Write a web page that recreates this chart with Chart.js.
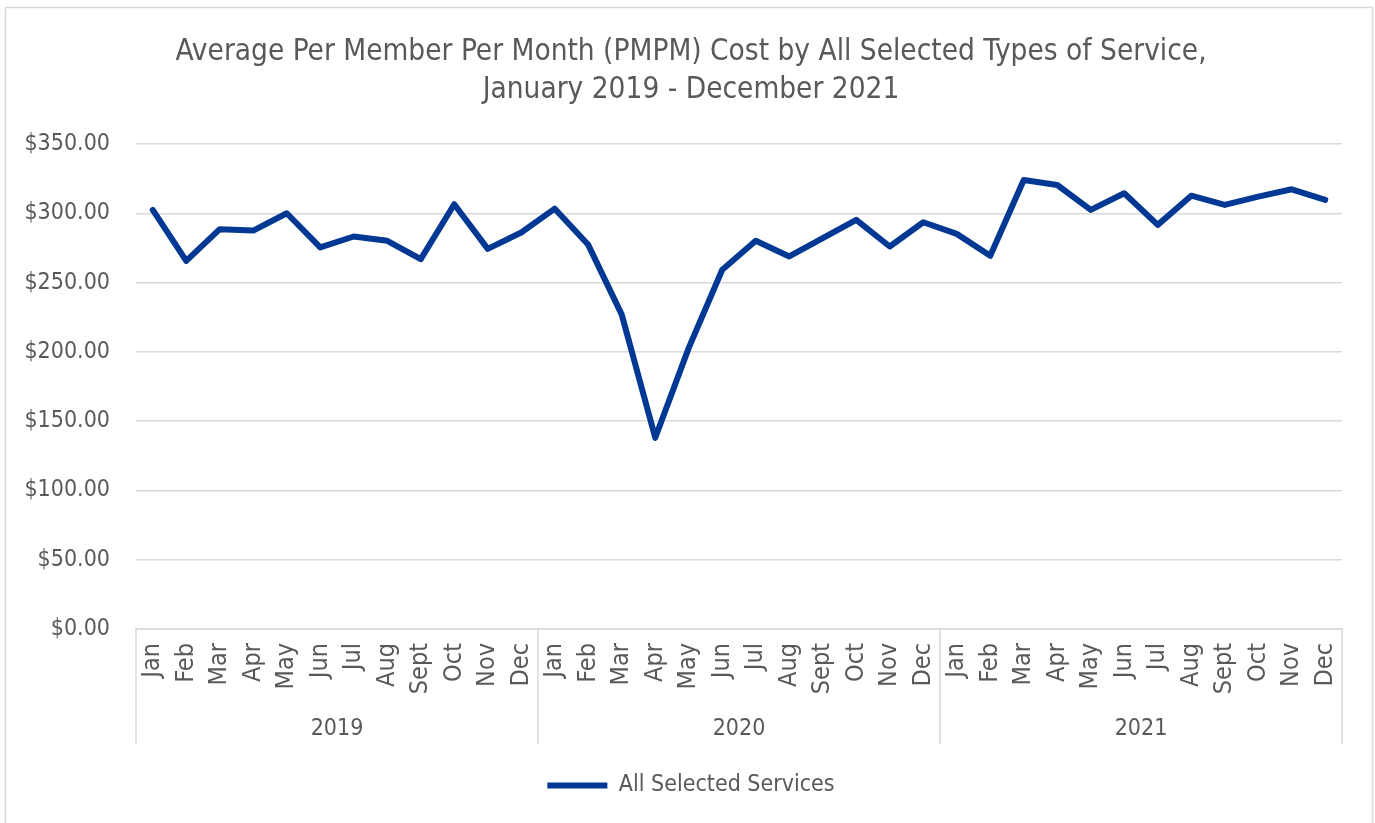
<!DOCTYPE html>
<html lang="en">
<head>
    <meta charset="UTF-8">
    <title>PMPM Cost</title>
    <script src="https://cdn.jsdelivr.net/npm/chart.js"></script>
    <style>
        body { margin: 0; background: #ffffff; }
        #wrap { width: 1375px; height: 823px; }
    </style>
</head>
<body>
<div id="wrap"><canvas id="myChart" width="1375" height="823"></canvas></div>

<script>
    // data
    const meses = ['Jan', 'Feb', 'Mar', 'Apr', 'May', 'Jun', 'Jul', 'Aug', 'Sept', 'Oct', 'Nov', 'Dec'];
    const anos = ['2019', '2020', '2021'];
    const custo2019 = [302.5, 265.7, 288.6, 287.6, 300.1, 275.4, 283.3, 280.2, 267.0, 306.6, 274.4, 286.2];
    const custo2020 = [303.4, 277.3, 226.9, 138.0, 202.9, 259.3, 280.2, 268.9, 282.1, 295.3, 276.1, 293.6];
    const custo2021 = [285.2, 269.4, 324.1, 320.5, 302.5, 314.5, 291.7, 312.8, 306.1, 312.1, 317.4, 309.7];
    const yTicks = [0, 50, 100, 150, 200, 250, 300, 350];

    const rotulos = [].concat(meses, meses, meses);
    const valores = [].concat(custo2019, custo2020, custo2021);

    const cinza = '#595959';
    const linhaGrade = '#d9d9d9';
    const fonte = "'DejaVu Sans Condensed', 'DejaVu Sans', sans-serif";

    // year separators under the axis + outer frame
    const separadores = {
        id: 'separadores',
        afterLayout(chart) {
            // title and legend sit a bit right of the canvas centre in the original
            const d = 15;
            [chart.titleBlock, chart.legend].forEach(b => {
                if (b) { b.left += d; b.right += d; }
            });
        },
        afterDraw(chart) {
            const ctx = chart.ctx;
            const xs = chart.scales.x;
            const x2 = chart.scales.x2;
            const passo = xs.width / anos.length;
            ctx.save();
            ctx.strokeStyle = linhaGrade;
            ctx.lineWidth = 1.5;
            for (let i = 0; i <= anos.length; i++) {
                const px = xs.left + i * passo;
                ctx.beginPath();
                ctx.moveTo(px, chart.chartArea.bottom);
                ctx.lineTo(px, x2.top + 40);
                ctx.stroke();
            }
            ctx.strokeRect(5.5, 7.5, 1367, 830);
            ctx.restore();
        }
    };

    const ctx1 = document.getElementById('myChart');

    new Chart(ctx1, {
        type: 'line',
        data: {
            labels: rotulos,
            datasets: [{
                label: 'All Selected Services',
                data: valores,
                borderColor: '#003893',
                backgroundColor: '#003893',
                borderWidth: 6,
                borderCapStyle: 'round',
                borderJoinStyle: 'round',
                pointRadius: 0,
                pointStyle: 'line',
                tension: 0
            }]
        },
        options: {
            responsive: false,
            animation: false,
            layout: { padding: { left: 10, right: 33, top: 0, bottom: 16 } },
            plugins: {
                title: {
                    display: true,
                    text: ['Average Per Member Per Month (PMPM) Cost by All Selected Types of Service,',
                           'January 2019 - December 2021'],
                    color: cinza,
                    font: { family: fonte, size: 29.5, weight: 'normal', lineHeight: 1.29 },
                    padding: { top: 33, bottom: 35 }
                },
                legend: {
                    position: 'bottom',
                    labels: {
                        usePointStyle: true,
                        pointStyleWidth: 60,
                        color: cinza,
                        padding: 10,
                        font: { family: fonte, size: 23 }
                    }
                },
                tooltip: { enabled: false }
            },
            scales: {
                x: {
                    offset: true,
                    grid: { display: false, drawTicks: false },
                    border: { display: true, color: linhaGrade, width: 1.5 },
                    ticks: {
                        autoSkip: false,
                        minRotation: 90,
                        maxRotation: 90,
                        padding: 14,
                        color: cinza,
                        font: { family: fonte, size: 25 }
                    },
                    afterFit: (s) => { s.height = 75; }
                },
                x2: {
                    type: 'category',
                    position: 'bottom',
                    labels: anos,
                    offset: true,
                    grid: { display: false, drawTicks: false },
                    border: { display: false },
                    ticks: {
                        padding: 11,
                        color: cinza,
                        font: { family: fonte, size: 23 }
                    },
                    afterFit: (s) => { s.height = 60; }
                },
                y: {
                    min: 0,
                    max: 350,
                    afterBuildTicks: (s) => { s.ticks = yTicks.map(v => ({ value: v })); },
                    grid: { color: linhaGrade, lineWidth: 1.5, drawTicks: false },
                    border: { display: false },
                    ticks: {
                        padding: 26,
                        color: cinza,
                        font: { family: fonte, size: 23 },
                        callback: (v) => '$' + Number(v).toFixed(2)
                    },
                    afterFit: (s) => { s.width = 126; }
                }
            }
        },
        plugins: [separadores]
    });
</script>
</body>
</html>
